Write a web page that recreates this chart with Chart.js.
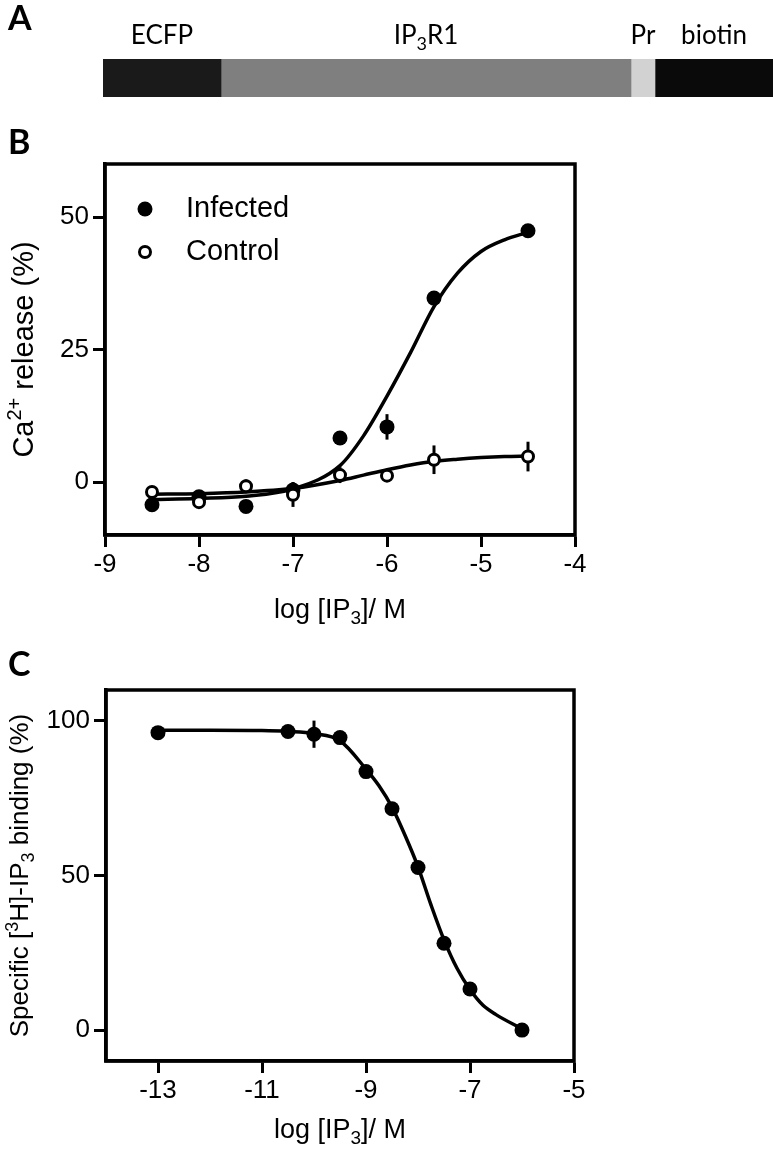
<!DOCTYPE html>
<html>
<head>
<meta charset="utf-8">
<script src="https://cdn.jsdelivr.net/npm/chart.js@4.4.1/dist/chart.umd.min.js"></script>
<style>
  html, body { margin: 0; padding: 0; background: #fff; }
  #wrap { position: relative; width: 773px; height: 1151px; }
  canvas { position: absolute; left: 0; }
</style>
</head>
<body>
<div id="wrap">
  <canvas id="chartA" width="773" height="110" style="top:0px"></canvas>
  <canvas id="chartB" width="773" height="530" style="top:110px"></canvas>
  <canvas id="chartC" width="773" height="511" style="top:640px"></canvas>
</div>
<script>
// A: construct domains (relative lengths)
const domainNames = ['ECFP', 'IP3R1', 'Pr', 'biotin'];
const domainLabels = [[['ECFP', '']], [['IP', ''], ['3', 'sub'], ['R1', '']], [['Pr', '']], [['biotin', '']]];
const domainLengths = [118, 410, 24, 118];
const domainColors = ['#1a1a1a', '#7f7f7f', '#d2d2d2', '#0a0a0a'];

// B: Ca2+ release vs log[IP3]
const doseB = [-8.5, -8, -7.5, -7, -6.5, -6, -5.5, -4.5];
const infected = [-4.3, -2.8, -4.6, -1.5, 8.3, 10.4, 34.7, 47.4];
const infectedErr = [0.6, 0.5, 0.6, 1.5, 1.0, 2.4, 1.2, 0.8];
const control = [-1.9, -3.8, -0.8, -2.4, 1.3, 1.2, 4.2, 4.8];
const controlErr = [0.9, 0.6, 1.3, 2.3, 1.5, 0.8, 2.7, 2.8];
// fitted curves
const fitXB = [-8.5, -8, -7.5, -7, -6.5, -6.25, -6, -5.75, -5.5, -5.25, -5, -4.75, -4.5];
const fitInfected = [-3.3, -3.1, -2.7, -1.3, 3.1, 8.7, 16.2, 24.4, 33.1, 39.4, 43.5, 45.7, 47.1];
const fitControl = [-2.3, -2.2, -1.9, -1.2, 0.3, 1.3, 2.3, 3.2, 3.9, 4.3, 4.6, 4.8, 4.9];
const ticksYB = [0, 25, 50];

// C: specific [3H]-IP3 binding
const doseC = [-13, -10.5, -10, -9.5, -9, -8.5, -8, -7.5, -7, -6];
const binding = [96.2, 96.6, 95.7, 94.6, 83.6, 71.6, 52.6, 28.1, 13.3, 0];
const bindingErr = [0.8, 0.8, 4.4, 1.0, 1.0, 1.0, 1.0, 1.0, 2.0, 0.6];
const fitXC = [-13, -12, -11, -10.5, -10, -9.5, -9, -8.75, -8.5, -8.25, -8, -7.75, -7.5, -7.25, -7, -6.75, -6.5, -6];
const fitBinding = [97.0, 97.0, 96.9, 96.6, 95.9, 93.6, 84.4, 79.0, 72.1, 63.0, 52.8, 40.5, 29.2, 20.0, 13.1, 8.0, 5.0, 0.4];
const ticksXC = [-13, -11, -9, -7, -5];
const ticksYC = [0, 50, 100];

const FONT = "'Liberation Sans', Arial, sans-serif";
const LABEL_FONT = "Lato, 'Open Sans', sans-serif";
const LINE_W = 3.5;

function toPoints(xs, ys) {
  return xs.map((x, i) => ({ x: x, y: ys[i] }));
}

// text with sub/superscripts
function drawRich(ctx, parts, x, y, size, family, align) {
  const fonts = parts.map(p => (p[1] ? Math.round(size * 0.7) : size) + 'px ' + family);
  const widths = parts.map((p, i) => { ctx.font = fonts[i]; return ctx.measureText(p[0]).width; });
  const total = widths.reduce((a, b) => a + b, 0);
  let cx = align === 'center' ? x - total / 2 : x;
  ctx.textAlign = 'left';
  ctx.textBaseline = 'alphabetic';
  parts.forEach((p, i) => {
    ctx.font = fonts[i];
    let dy = 0;
    if (p[1] === 'sup') dy = -size * 0.4;
    if (p[1] === 'sub') dy = size * 0.22;
    ctx.fillText(p[0], cx, y + dy);
    cx += widths[i];
  });
}

function drawMarker(ctx, ds, x, y) {
  ctx.beginPath();
  ctx.arc(x, y, ds.pointRadius, 0, Math.PI * 2);
  ctx.fillStyle = ds.pointBackgroundColor;
  ctx.fill();
  if (ds.pointBorderWidth) {
    ctx.lineWidth = ds.pointBorderWidth;
    ctx.strokeStyle = ds.pointBorderColor;
    ctx.stroke();
  }
}

const decor = {
  id: 'decor',
  beforeDatasetsDraw(chart, args, opts) {
    const { ctx, scales } = chart;
    if (!opts.errors) return;
    ctx.save();
    ctx.strokeStyle = '#000';
    ctx.lineWidth = 3;
    opts.errors.forEach(e => {
      chart.data.datasets[e.dataset].data.forEach((p, i) => {
        const x = scales.x.getPixelForValue(p.x);
        ctx.beginPath();
        ctx.moveTo(x, scales.y.getPixelForValue(p.y - e.values[i]));
        ctx.lineTo(x, scales.y.getPixelForValue(p.y + e.values[i]));
        ctx.stroke();
      });
    });
    ctx.restore();
  },
  afterDraw(chart, args, opts) {
    const { ctx, chartArea: a } = chart;
    ctx.save();
    ctx.fillStyle = '#000';
    if (opts.frame) {
      ctx.strokeStyle = '#000';
      ctx.lineWidth = LINE_W;
      ctx.strokeRect(a.left, a.top, a.right - a.left, a.bottom - a.top);
    }
    if (opts.letter) {
      ctx.font = 'bold 34px ' + LABEL_FONT;
      ctx.textAlign = 'left';
      ctx.textBaseline = 'alphabetic';
      ctx.fillText(opts.letter, 8, opts.letterY);
    }
    if (opts.segmentLabels) {
      chart.data.datasets.forEach((ds, i) => {
        const bar = chart.getDatasetMeta(i).data[0];
        ctx.fillStyle = '#000';
        drawRich(ctx, opts.segmentLabels[i], (bar.x + bar.base) / 2, a.top - 15, 26, LABEL_FONT, 'center');
      });
    }
    if (opts.legend) {
      opts.legend.forEach((idx, row) => {
        const ds = chart.data.datasets[idx];
        const y = a.top + 53 + row * 43;
        drawMarker(ctx, ds, a.left + 40, y - 8);
        ctx.fillStyle = '#000';
        drawRich(ctx, [[ds.label, '']], a.left + 81, y, 29, FONT, 'left');
      });
    }
    if (opts.xTitle) {
      ctx.fillStyle = '#000';
      drawRich(ctx, opts.xTitle, (a.left + a.right) / 2, a.bottom + opts.xTitleGap, 27, FONT, 'center');
    }
    if (opts.yTitle) {
      ctx.fillStyle = '#000';
      ctx.translate(opts.yTitleX, (a.top + a.bottom) / 2);
      ctx.rotate(-Math.PI / 2);
      drawRich(ctx, opts.yTitle, 0, 0, opts.yTitleSize, FONT, 'center');
    }
    ctx.restore();
  }
};

function axisX(min, max, height, extra) {
  return Object.assign({
    type: 'linear', min: min, max: max,
    border: { display: true, color: '#000', width: LINE_W },
    grid: { drawOnChartArea: false, drawTicks: true, tickLength: 12, tickWidth: 3, color: '#000' },
    ticks: { color: '#000', font: { size: 26, family: FONT }, padding: 2, maxRotation: 0 },
    afterFit: s => { s.height = height; }
  }, extra || {});
}

function axisY(min, max, width, tickValues) {
  return {
    type: 'linear', min: min, max: max,
    border: { display: true, color: '#000', width: LINE_W },
    grid: { drawOnChartArea: false, drawTicks: true, tickLength: 12, tickWidth: 3, color: '#000' },
    ticks: { color: '#000', font: { size: 26, family: FONT }, padding: 4 },
    afterBuildTicks: s => { s.ticks = tickValues.map(v => ({ value: v })); },
    afterFit: s => { s.width = width; }
  };
}

const logLabel = [['log [IP', ''], ['3', 'sub'], [']/ M', '']];

// A
new Chart(document.getElementById('chartA'), {
  type: 'bar',
  data: {
    labels: [''],
    datasets: domainNames.map((n, i) => ({
      label: n,
      data: [domainLengths[i]],
      backgroundColor: domainColors[i],
      borderWidth: 0,
      barPercentage: 1,
      categoryPercentage: 1
    }))
  },
  options: {
    indexAxis: 'y',
    responsive: false,
    animation: false,
    devicePixelRatio: 1,
    layout: { padding: { left: 103, right: 0, top: 59, bottom: 13 } },
    scales: {
      x: { stacked: true, display: false, min: 0, max: domainLengths.reduce((a, b) => a + b, 0) },
      y: { stacked: true, display: false }
    },
    plugins: {
      legend: { display: false },
      tooltip: { enabled: false },
      decor: { letter: 'A', letterY: 30, segmentLabels: domainLabels }
    }
  },
  plugins: [decor]
});

// B
new Chart(document.getElementById('chartB'), {
  type: 'scatter',
  data: {
    datasets: [
      { label: 'Infected', data: toPoints(doseB, infected), pointRadius: 7.5, pointBackgroundColor: '#000',
        pointBorderColor: '#000', pointBorderWidth: 0, order: 2 },
      { label: 'Control', data: toPoints(doseB, control), pointRadius: 5.5, pointBackgroundColor: '#fff',
        pointBorderColor: '#000', pointBorderWidth: 3, order: 1 },
      { label: 'Infected fit', data: toPoints(fitXB, fitInfected), showLine: true, pointRadius: 0,
        borderColor: '#000', borderWidth: LINE_W, cubicInterpolationMode: 'monotone', order: 3 },
      { label: 'Control fit', data: toPoints(fitXB, fitControl), showLine: true, pointRadius: 0,
        borderColor: '#000', borderWidth: LINE_W, cubicInterpolationMode: 'monotone', order: 3 }
    ]
  },
  options: {
    responsive: false,
    animation: false,
    devicePixelRatio: 1,
    layout: { padding: { left: 0, right: 198, top: 54, bottom: 0 } },
    scales: {
      x: axisX(-9, -4, 105, { ticks: { color: '#000', font: { size: 26, family: FONT }, padding: 2, stepSize: 1, maxRotation: 0 } }),
      y: axisY(-10, 60, 105, ticksYB)
    },
    plugins: {
      legend: { display: false },
      tooltip: { enabled: false },
      decor: {
        letter: 'B', letterY: 44, frame: true, legend: [0, 1],
        errors: [{ dataset: 0, values: infectedErr }, { dataset: 1, values: controlErr }],
        xTitle: logLabel, xTitleGap: 83,
        yTitle: [['Ca', ''], ['2+', 'sup'], [' release (%)', '']], yTitleX: 33, yTitleSize: 29
      }
    }
  },
  plugins: [decor]
});

// C
new Chart(document.getElementById('chartC'), {
  type: 'scatter',
  data: {
    datasets: [
      { label: 'Binding', data: toPoints(doseC, binding), pointRadius: 7.5, pointBackgroundColor: '#000',
        pointBorderColor: '#000', pointBorderWidth: 0, order: 1 },
      { label: 'Binding fit', data: toPoints(fitXC, fitBinding), showLine: true, pointRadius: 0,
        borderColor: '#000', borderWidth: LINE_W, cubicInterpolationMode: 'monotone', order: 2 }
    ]
  },
  options: {
    responsive: false,
    animation: false,
    devicePixelRatio: 1,
    layout: { padding: { left: 0, right: 199, top: 50, bottom: 0 } },
    scales: {
      x: axisX(-14, -5, 90, { afterBuildTicks: s => { s.ticks = ticksXC.map(v => ({ value: v })); } }),
      y: axisY(-10, 110, 106, ticksYC)
    },
    plugins: {
      legend: { display: false },
      tooltip: { enabled: false },
      decor: {
        letter: 'C', letterY: 36, frame: true,
        errors: [{ dataset: 0, values: bindingErr }],
        xTitle: logLabel, xTitleGap: 77,
        yTitle: [['Specific [', ''], ['3', 'sup'], ['H]-IP', ''], ['3', 'sub'], [' binding (%)', '']], yTitleX: 28, yTitleSize: 26
      }
    }
  },
  plugins: [decor]
});
</script>
</body>
</html>
